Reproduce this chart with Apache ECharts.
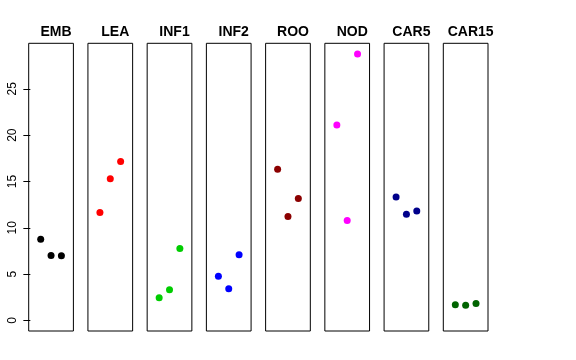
<!DOCTYPE html>
<html><head><meta charset="utf-8">
<script src="https://cdn.jsdelivr.net/npm/echarts@6/dist/echarts.min.js"></script>
<style>html,body{margin:0;padding:0;background:#fff}#c{width:576px;height:360px}</style>
</head><body><div id="c"></div>
<script>
const categories = ['EMB','LEA','INF1','INF2','ROO','NOD','CAR5','CAR15'];
const colors = ['#000000','#FF0000','#00CD00','#0000FF','#8B0000','#FF00FF','#00008B','#006400'];
const EMB = [8.77, 7.01, 6.97];
const LEA = [11.66, 15.29, 17.16];
const INF1 = [2.44, 3.30, 7.77];
const INF2 = [4.75, 3.41, 7.08];
const ROO = [16.33, 11.22, 13.17];
const NOD = [21.11, 10.79, 28.77];
const CAR5 = [13.31, 11.47, 11.80];
const CAR15 = [1.68, 1.62, 1.83];
const seriesValues = [EMB, LEA, INF1, INF2, ROO, NOD, CAR5, CAR15];
const yTicks = [0, 5, 10, 15, 20, 25];

const allMax = Math.max(...seriesValues.flat());
const yMin = 0 - 0.04 * allMax, yMax = allMax + 0.04 * allMax;

const grids = [], xAxes = [], yAxes = [], series = [], titles = [];
const L0 = 28.7, step = 59.23, W = 44.7, TOP = 43.3, H = 287.7;
categories.forEach((cat, i) => {
  const left = L0 + step * i;
  grids.push({left: left, top: TOP, width: W, height: H, show: true, borderColor: '#000', borderWidth: 1, backgroundColor: 'transparent'});
  xAxes.push({type: 'value', gridIndex: i, min: -0.16, max: 4.16, show: false});
  yAxes.push({
    type: 'value', gridIndex: i, min: yMin, max: yMax, show: i === 0,
    axisLine: {show: false}, splitLine: {show: false},
    axisTick: {show: true, length: 7, customValues: yTicks, lineStyle: {color: '#000'}},
    axisLabel: {show: true, customValues: yTicks, rotate: 90, margin: 10, fontSize: 12, color: '#000', fontFamily: 'Liberation Sans'}
  });
  series.push({
    type: 'scatter', xAxisIndex: i, yAxisIndex: i, symbolSize: 7,
    itemStyle: {color: colors[i], opacity: 1},
    data: seriesValues[i].map((v, j) => [j + 1, v]),
    silent: true
  });
  titles.push({text: cat, left: left + W / 2, top: 20, textAlign: 'center',
    textStyle: {fontSize: 14, fontWeight: 'bold', color: '#000', fontFamily: 'Liberation Sans'}});
});

const chart = echarts.init(document.getElementById('c'), null, {renderer: 'canvas'});
chart.setOption({animation: false, title: titles, grid: grids, xAxis: xAxes, yAxis: yAxes, series: series});
</script></body></html>
